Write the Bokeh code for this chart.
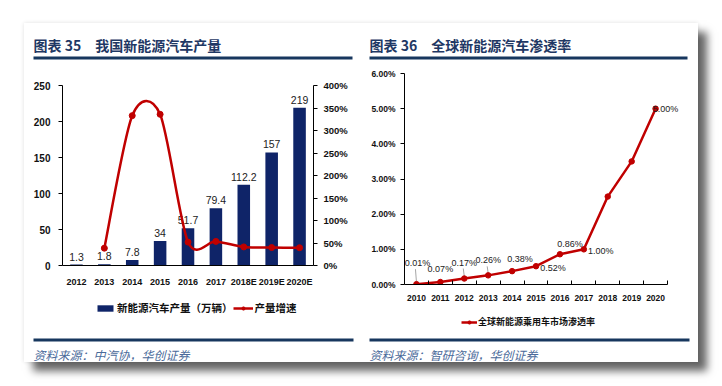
from bokeh.plotting import figure
from bokeh.models import (LinearAxis, Range1d, FixedTicker, Legend, LegendItem, ColumnDataSource)
from bokeh.layouts import row, column
from bokeh.embed import file_html
from bokeh.resources import INLINE
from bokeh.core.properties import value

# ---------------- data ----------------
years_a = ["2012", "2013", "2014", "2015", "2016", "2017", "2018E", "2019E", "2020E"]
output = [1.3, 1.8, 7.8, 34, 51.7, 79.4, 112.2, 157, 219]
output_labels = ["1.3", "1.8", "7.8", "34", "51.7", "79.4", "112.2", "157", "219"]
growth = [None, 38.5, 333, 336, 52, 53.6, 41.3, 39.9, 39.5]
left_ticks = [0, 50, 100, 150, 200, 250]
pct_ticks = [0, 50, 100, 150, 200, 250, 300, 350, 400]
pct_tick_labels = ["0%", "50%", "100%", "150%", "200%", "250%", "300%", "350%", "400%"]

years_b = ["2010", "2011", "2012", "2013", "2014", "2015", "2016", "2017", "2018", "2019", "2020"]
penetration = [0.01, 0.07, 0.17, 0.26, 0.38, 0.52, 0.86, 1.00, 2.5, 3.5, 5.00]
pen_labels = ["0.01%", "0.07%", "0.17%", "0.26%", "0.38%", "0.52%", "0.86%", "1.00%", "", "", "5.00%"]
pen_ticks = [0, 1, 2, 3, 4, 5, 6]
pen_tick_labels = ["0.00%", "1.00%", "2.00%", "3.00%", "4.00%", "5.00%", "6.00%"]

title_a = "图表 35\u3000我国新能源汽车产量"
title_b = "图表 36\u3000全球新能源汽车渗透率"
source_a = "资料来源：中汽协，华创证券"
source_b = "资料来源：智研咨询，华创证券"
legend_a = ["新能源汽车产量（万辆）", "产量增速"]
legend_b = "全球新能源乘用车市场渗透率"

# ---------------- styles ----------------
NAVY = "#0F2468"
RED = "#C00000"
TITLE_C = "#1F3864"
LINE_C = "#17375E"
SRC_C = "#4A6A9A"
CJK = "Noto Sans CJK SC"
NUM = "Liberation Sans"
W = 337
NAN = float("nan")

# label offsets (pixels) for right chart data labels
lab_dx = [1, 0, 0, 0, 8, 17, 10, 17, 0, 0, 10]
lab_dy = [-21, -13, -16, -15, -12, 2, -10, 2, 0, 0, 0]


def style_axis(ax, size="9.5px"):
    ax.axis_line_color = "black"
    ax.axis_line_width = 1
    ax.major_tick_line_color = "black"
    ax.minor_tick_line_color = None
    ax.major_label_text_font = NUM
    ax.major_label_text_font_style = "bold"
    ax.major_label_text_font_size = size
    ax.major_label_text_color = "#111111"


def blank_fig(h):
    f = figure(width=W, height=h, x_range=Range1d(0, W), y_range=Range1d(h, 0),
               x_axis_type=None, y_axis_type=None, output_backend="svg",
               toolbar_location=None, min_border=0, outline_line_color=None,
               background_fill_color="white", border_fill_color="white",
               frame_align=False)
    f.grid.visible = False
    return f


def header(x0, x1, title):
    h = blank_fig(39)
    h.text(x=[x0], y=[21], text=[title], text_font=value(CJK), text_font_style="bold",
           text_font_size="14px", text_color=TITLE_C, text_baseline="middle")
    h.quad(left=[x0], right=[x1], top=[33], bottom=[36], fill_color=LINE_C, line_color=None)
    return h


def footer(height, x0, x1, rule_y, src_y, source):
    f = blank_fig(height)
    f.quad(left=[x0], right=[x1], top=[rule_y], bottom=[rule_y + 3],
           fill_color=LINE_C, line_color=None)
    f.text(x=[x0], y=[src_y], text=[source], text_font=value(CJK), text_font_style="italic",
           text_font_size="12px", text_color=SRC_C, text_baseline="middle")
    return f


# ---------------- left chart ----------------
n_a = len(years_a)
xa = list(range(n_a))
p1 = figure(width=W, height=234, x_range=Range1d(-0.5, n_a - 0.5), y_range=Range1d(0, 250),
            output_backend="svg", toolbar_location=None, frame_align=False,
            min_border_left=38, min_border_right=48, min_border_top=23, min_border_bottom=31,
            outline_line_color=None, background_fill_color="white", border_fill_color="white")
p1.grid.visible = False
p1.extra_y_ranges = {"pct": Range1d(0, 400)}

p1.vbar(x=xa, top=output, width=0.45, fill_color=NAVY, line_color=None)
p1.text(x=xa, y=output, text=output_labels, text_align="center", text_baseline="bottom",
        y_offset=-4, text_font=value(NUM), text_font_size="10.5px", text_color="#222222")

# smoothed growth curve (Catmull-Rom style cubic Bezier through the points)
TENS = 1 / 7
pts = [(float(i), float(g)) for i, g in enumerate(growth) if g is not None]
bx0, by0, bx1, by1, cx0, cy0, cx1, cy1 = ([] for _ in range(8))
for k in range(len(pts) - 1):
    p0 = pts[k - 1] if k > 0 else pts[k]
    pa = pts[k]
    pb = pts[k + 1]
    p3 = pts[k + 2] if k + 2 < len(pts) else pts[k + 1]
    bx0.append(pa[0]); by0.append(pa[1]); bx1.append(pb[0]); by1.append(pb[1])
    cx0.append(pa[0] + (pb[0] - p0[0]) * TENS); cy0.append(pa[1] + (pb[1] - p0[1]) * TENS)
    cx1.append(pb[0] - (p3[0] - pa[0]) * TENS); cy1.append(pb[1] - (p3[1] - pa[1]) * TENS)
p1.bezier(x0=bx0, y0=by0, x1=bx1, y1=by1, cx0=cx0, cy0=cy0, cx1=cx1, cy1=cy1,
          line_color=RED, line_width=2.5, y_range_name="pct")
p1.scatter(x=[p[0] for p in pts], y=[p[1] for p in pts], size=6, fill_color=RED,
           line_color=RED, y_range_name="pct")

p1.yaxis.ticker = FixedTicker(ticks=left_ticks)
p1.yaxis.major_tick_in = 0
p1.yaxis.major_tick_out = 4
p1.yaxis.major_label_standoff = 8
p1.xaxis.ticker = FixedTicker(ticks=xa)
p1.xaxis.major_label_overrides = {i: y for i, y in zip(xa, years_a)}
p1.xaxis.major_tick_in = 0
p1.xaxis.major_tick_out = 0
p1.xaxis.major_label_standoff = 11
style_axis(p1.yaxis[0], "10px")
style_axis(p1.xaxis[0], "9px")

rax = LinearAxis(y_range_name="pct", ticker=FixedTicker(ticks=pct_ticks),
                 major_label_overrides={t: l for t, l in zip(pct_ticks, pct_tick_labels)},
                 major_tick_in=0, major_tick_out=4, major_label_standoff=6)
style_axis(rax, "9.5px")
p1.add_layout(rax, "right")

h1 = header(9, 328, title_a)
f1 = footer(66, 9, 329, 42, 58, source_a)
lg_bar = f1.vbar(x=[NAN], top=[NAN], width=0.45, fill_color=NAVY, line_color=None)
lg_line = f1.line(x=[NAN], y=[NAN], line_color=RED, line_width=2.5)
lg_dot = f1.scatter(x=[NAN], y=[NAN], size=6, fill_color=RED, line_color=RED)
leg1 = Legend(items=[LegendItem(label=legend_a[0], renderers=[lg_bar]),
                     LegendItem(label=legend_a[1], renderers=[lg_line, lg_dot])],
              orientation="horizontal", location=(71, 47), glyph_width=20, glyph_height=8,
              label_standoff=2, spacing=0, padding=0, margin=0, label_height=12,
              border_line_color=None, background_fill_alpha=0,
              label_text_font=CJK, label_text_font_style="bold", label_text_font_size="10.5px",
              label_text_color="#111111")
f1.add_layout(leg1, "center")

# ---------------- right chart ----------------
n_b = len(years_b)
xb = list(range(n_b))
p2 = figure(width=W, height=246, x_range=Range1d(-0.5, n_b), y_range=Range1d(0, 6),
            output_backend="svg", toolbar_location=None, frame_align=False,
            min_border_left=43, min_border_right=19, min_border_top=11, min_border_bottom=24,
            outline_line_color=None, background_fill_color="white", border_fill_color="white")
p2.grid.visible = False

# leader lines (pixel offsets converted to data units)
ux = (n_b + 0.5) / 275.0
uy = 6.0 / 211.0
lead_idx = [0, 2, 3]
lead_len = [14, 9, 8]
p2.segment(x0=[xb[i] for i in lead_idx], y0=[penetration[i] + 2 * uy for i in lead_idx],
           x1=[xb[i] - 1 * ux for i in lead_idx],
           y1=[penetration[i] + (L + 1) * uy for i, L in zip(lead_idx, lead_len)],
           line_color="#A6A6A6", line_width=1)

p2.line(x=xb, y=penetration, line_color=RED, line_width=2.5)
p2.scatter(x=xb, y=penetration, size=5.5, fill_color=RED, line_color=RED)
src2 = ColumnDataSource(dict(x=xb, y=penetration, t=pen_labels, dx=lab_dx, dy=lab_dy))
p2.text(x="x", y="y", text="t", x_offset="dx", y_offset="dy", source=src2,
        text_align="center", text_baseline="middle", text_font=value(NUM),
        text_font_size="9px", text_color="#222222")

p2.yaxis.ticker = FixedTicker(ticks=pen_ticks)
p2.yaxis.major_label_overrides = {t: l for t, l in zip(pen_ticks, pen_tick_labels)}
p2.yaxis.major_tick_in = 0
p2.yaxis.major_tick_out = 4
p2.yaxis.major_label_standoff = 5
p2.xaxis.ticker = FixedTicker(ticks=xb, minor_ticks=[i + 0.5 for i in xb])
p2.xaxis.major_label_overrides = {i: y for i, y in zip(xb, years_b)}
p2.xaxis.bounds = (-0.5, n_b - 0.5)
p2.xaxis.major_tick_in = 0
p2.xaxis.major_tick_out = 0
p2.xaxis.major_label_standoff = 10
style_axis(p2.yaxis[0], "8.5px")
style_axis(p2.xaxis[0], "8.5px")
p2.xaxis.minor_tick_line_color = "black"
p2.xaxis.minor_tick_in = 4
p2.xaxis.minor_tick_out = 0

h2 = header(8, 326, title_b)
f2 = footer(54, 8, 328, 30, 46, source_b)
lg_line2 = f2.line(x=[NAN], y=[NAN], line_color=RED, line_width=2.5)
lg_dot2 = f2.scatter(x=[NAN], y=[NAN], size=5.5, fill_color=RED, line_color=RED)
leg2 = Legend(items=[LegendItem(label=legend_b, renderers=[lg_line2, lg_dot2])],
              orientation="horizontal", location=(100, 34), glyph_width=16, glyph_height=8,
              label_standoff=1, padding=0, margin=0, label_height=12,
              border_line_color=None, background_fill_alpha=0,
              label_text_font=CJK, label_text_font_style="bold", label_text_font_size="9px",
              label_text_color="#111111")
f2.add_layout(leg2, "center")

left_col = column(h1, p1, f1, spacing=0)
right_col = column(h2, p2, f2, spacing=0)
layout = row(left_col, right_col, spacing=0, margin=(23, 0, 0, 24),
             styles={"box-shadow": "9px 9px 8px rgba(0,0,0,0.6), 0 0 4px rgba(0,0,0,0.12)",
                     "background-color": "white"})

with open("out.html", "w") as f:
    f.write(file_html(layout, INLINE))
